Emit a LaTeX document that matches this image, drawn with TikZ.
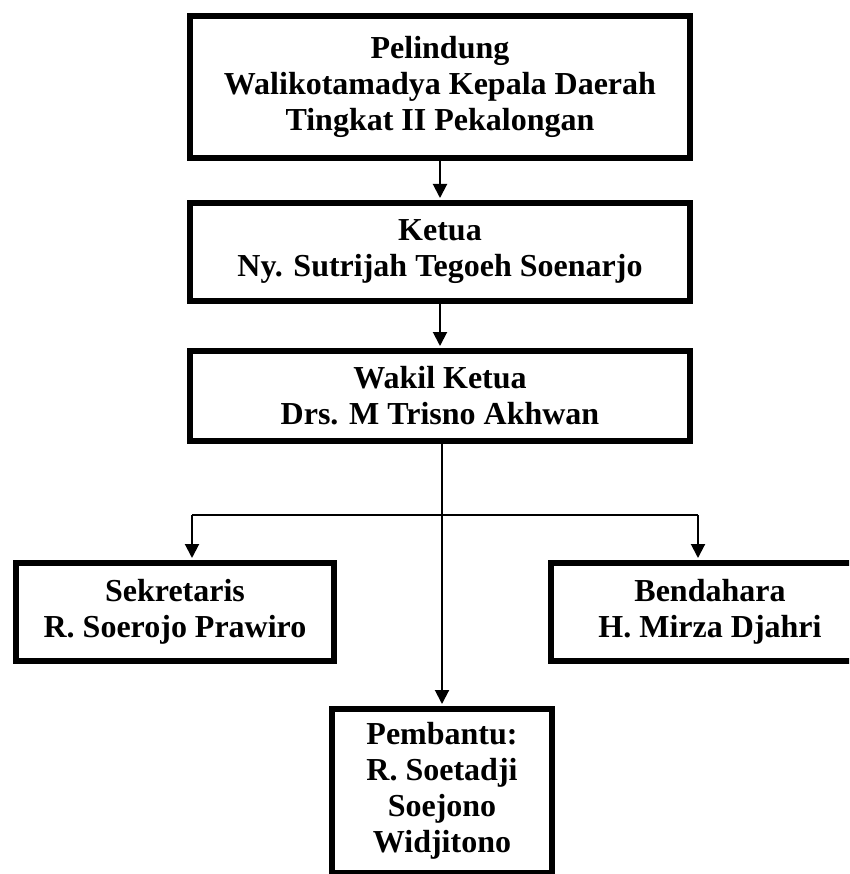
\documentclass[tikz,border=0pt]{standalone}
\usepackage{fontspec}
\setmainfont{Liberation Serif}
\usetikzlibrary{arrows.meta}
\begin{document}
\begin{tikzpicture}[x=1pt,y=-1pt,
  box/.style={draw=black,line width=6pt,align=center,inner sep=0pt,
    font=\fontsize{32}{36}\selectfont\bfseries},
  conn/.style={draw=black,line width=2pt},
  arr/.style={conn,-{Triangle[length=14pt,width=14pt]},shorten >=2pt}]
\useasboundingbox (0,0) rectangle (849,874);
\begin{scope}
\clip (0,0) rectangle (849,874);
\node[box,minimum width=500pt,minimum height=142pt] (pel) at (440,87)
  {Pelindung\\Walikotamadya Kepala Daerah\\Tingkat II Pekalongan};
\node[box,minimum width=500pt,minimum height=98pt] (ket) at (440,252)
  {Ketua\\Ny. Sutrijah Tegoeh Soenarjo};
\node[box,minimum width=500pt,minimum height=90pt] (wak) at (440,396)
  {Wakil Ketua\\Drs. M Trisno Akhwan};
\node[box,minimum width=318pt,minimum height=98pt] (sek) at (175,612)
  {Sekretaris\\R. Soerojo Prawiro};
\node[box,minimum width=318pt,minimum height=98pt] (ben) at (710,612)
  {Bendahara\\H. Mirza Djahri};
\node[box,minimum width=220pt,minimum height=164pt] (pem) at (442,791)
  {Pembantu:\\R. Soetadji\\Soejono\\Widjitono};
\coordinate (hL) at (192,515);
\coordinate (hR) at (698,515);
\draw[arr] (pel.south) -- (ket.north);
\draw[arr] (ket.south) -- (wak.north);
\draw[arr] (wak.south -| pem.north) -- (pem.north);
\draw[conn] (hL) -- (hR);
\draw[arr] (hL) -- (hL |- sek.north);
\draw[arr] (hR) -- (hR |- ben.north);
\end{scope}
\end{tikzpicture}
\end{document}
